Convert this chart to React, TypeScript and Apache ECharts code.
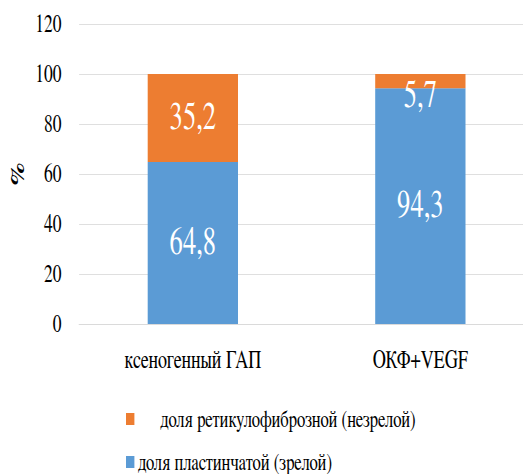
import React, { useEffect, useRef } from "react";
import * as echarts from "echarts";

// Bone tissue composition by group, %
const categories = ["ксеногенный ГАП", "ОКФ+VEGF"];
const matureShare = [64.8, 94.3]; // доля пластинчатой (зрелой)
const immatureShare = [35.2, 5.7]; // доля ретикулофиброзной (незрелой)
const yTicks = { min: 0, max: 120, interval: 20 };

const MATURE_NAME = "доля пластинчатой (зрелой)";
const IMMATURE_NAME = "доля ретикулофиброзной (незрелой)";

const FONT = "FreeSerif, 'Liberation Serif', serif";
const BLUE = "#5B9BD5";
const ORANGE = "#ED7D31";
const GRID = "#D9D9D9";

// The chart is laid out wide and condensed horizontally, giving the narrow serif look.
const SQUEEZE = 0.7;
const OUT_W = 523;
const OUT_H = 474;
const IN_W = 800;

const fmt = (v: number) => String(v).replace(".", ",");

export default function App() {
  const ref = useRef<HTMLDivElement>(null);

  useEffect(() => {
    if (!ref.current) return;
    const chart = echarts.init(ref.current, undefined, { renderer: "svg" });

    const valueLabel = {
      show: true,
      position: "inside" as const,
      color: "#fff",
      fontSize: 38,
      fontFamily: FONT,
      formatter: (p: any) => fmt(p.value),
    };

    chart.setOption({
      animation: false,
      backgroundColor: "#fff",
      textStyle: { fontFamily: FONT },
      grid: { left: 113, top: 24, width: 650, height: 300 },
      xAxis: {
        type: "category",
        data: categories,
        axisLine: { show: true, lineStyle: { color: GRID, width: 1 } },
        axisTick: { show: false },
        axisLabel: {
          color: "#000",
          fontSize: 26,
          fontFamily: FONT,
          margin: 23,
        },
      },
      yAxis: {
        type: "value",
        min: yTicks.min,
        max: yTicks.max,
        interval: yTicks.interval,
        name: "%",
        nameLocation: "middle",
        nameRotate: 90,
        nameGap: 68,
        nameTextStyle: {
          color: "#000",
          fontSize: 28,
          fontWeight: "bold",
          fontFamily: FONT,
        },
        axisLine: { show: false },
        axisTick: { show: false },
        splitLine: { lineStyle: { color: GRID, width: 1 } },
        axisLabel: {
          color: "#000",
          fontSize: 25,
          fontFamily: FONT,
          margin: 25,
        },
      },
      legend: [
        {
          data: [IMMATURE_NAME],
          left: 175,
          top: 402,
          itemWidth: 12,
          itemHeight: 12,
          icon: "rect",
          textStyle: {
            color: "#000",
            fontSize: 24,
            lineHeight: 24,
            fontFamily: FONT,
            padding: [0, 0, 0, 32],
          },
        },
        {
          data: [MATURE_NAME],
          left: 175,
          top: 445,
          itemWidth: 12,
          itemHeight: 12,
          icon: "rect",
          textStyle: {
            color: "#000",
            fontSize: 24,
            lineHeight: 24,
            fontFamily: FONT,
          },
        },
      ],
      series: [
        {
          name: MATURE_NAME,
          type: "bar",
          stack: "share",
          barWidth: 129,
          itemStyle: { color: BLUE },
          label: valueLabel,
          data: matureShare,
        },
        {
          name: IMMATURE_NAME,
          type: "bar",
          stack: "share",
          barWidth: 129,
          itemStyle: { color: ORANGE },
          label: valueLabel,
          // a thin top segment keeps its value just below the bar top
          data: immatureShare.map((v) =>
            v < 10 ? { value: v, label: { offset: [0, 15] } } : v
          ),
        },
      ],
    });

    return () => chart.dispose();
  }, []);

  return (
    <div
      style={{
        position: "fixed",
        left: 0,
        top: 0,
        width: OUT_W,
        height: OUT_H,
        overflow: "hidden",
        background: "#fff",
      }}
    >
      <div
        ref={ref}
        style={{
          width: IN_W,
          height: OUT_H,
          transform: `scaleX(${SQUEEZE})`,
          transformOrigin: "0 0",
        }}
      />
    </div>
  );
}
